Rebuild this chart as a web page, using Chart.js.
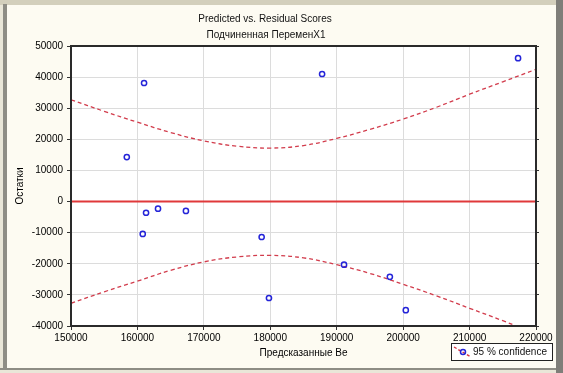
<!DOCTYPE html>
<html>
<head>
<meta charset="utf-8">
<script src="https://cdn.jsdelivr.net/npm/chart.js@4"></script>
<style>
  html, body { margin: 0; padding: 0; }
  body { width: 563px; height: 373px; background: #e9e6d8; position: relative; overflow: hidden; }
  .topband { position: absolute; left: 0; top: 0; width: 563px; height: 5px; background: #d3cfbc; }
  .leftbar { position: absolute; left: 3px; top: 4px; width: 4px; height: 365px; background: #8e8d85; }
  .rightbar { position: absolute; left: 556px; top: 0; width: 7px; height: 373px; background: #7f7e79; }
  .panel { position: absolute; left: 7px; top: 5px; width: 549px; height: 363px; background: #fdfbf2; }
  .bottomline { position: absolute; left: 0; top: 368px; width: 556px; height: 2px; background: #8e8d85; }
  #wrap { position: absolute; left: 0; top: 0; width: 563px; height: 373px; }
</style>
</head>
<body>
<div class="topband"></div>
<div class="leftbar"></div>
<div class="panel"></div>
<div class="rightbar"></div>
<div class="bottomline"></div>
<div id="wrap"><canvas id="residChart" width="563" height="373"></canvas></div>
<script>
// Остатки по предсказанным значениям
const predicted = [158400, 161000, 161300, 160800, 163100, 167300, 178700, 179800, 187800, 191100, 198000, 200400, 217300];
const residuals = [14300, 38100, -3600, -10400, -2300, -3000, -11400, -31000, 41000, -20300, -24200, -34900, 46100];

// Границы 95% доверительного интервала
const bandX = [150000, 155000, 160000, 165000, 170000, 175000, 180000, 185000, 190000, 195000, 200000, 205000, 210000, 215000, 220000];
const bandUpper = [32700, 29000, 25500, 22200, 19500, 17800, 17200, 18000, 20300, 23200, 26500, 30300, 34500, 38500, 42500];
const bandLower = [-32700, -29000, -25600, -22100, -19400, -17800, -17300, -18100, -20300, -23100, -26600, -30300, -34300, -38300, -42500];

const xTicks = [150000, 160000, 170000, 180000, 190000, 200000, 210000, 220000];
const yTicks = [-40000, -30000, -20000, -10000, 0, 10000, 20000, 30000, 40000, 50000];

const chartTitle = 'Predicted vs. Residual Scores';
const chartSubtitle = 'Подчиненная ПеременX1';
const legendLabel = '95 % confidence';

const font = 'Liberation Sans, Arial, sans-serif';

const toPoints = (xs, ys) => xs.map((x, i) => ({ x: x, y: ys[i] }));

// фон области графика, рамка, заголовки и легенда
const statisticaLook = {
    id: 'statisticaLook',
    beforeDraw(chart) {
        const { ctx, chartArea: a } = chart;
        ctx.save();
        ctx.fillStyle = '#ffffff';
        ctx.fillRect(a.left, a.top, a.right - a.left, a.bottom - a.top);
        ctx.restore();
    },
    afterDraw(chart) {
        const { ctx, chartArea: a } = chart;
        ctx.save();
        ctx.strokeStyle = '#2a2a2a';
        ctx.lineWidth = 2;
        ctx.strokeRect(a.left, a.top, a.right - a.left, a.bottom - a.top);

        ctx.fillStyle = '#111111';
        ctx.font = '10px ' + font;
        ctx.textAlign = 'center';
        ctx.textBaseline = 'middle';
        ctx.fillText(chartTitle, 265, 19);
        ctx.fillText(chartSubtitle, 266, 35);

        // легенда
        const bx = 451, by = 343, bw = 101, bh = 17;
        ctx.fillStyle = '#ffffff';
        ctx.fillRect(bx, by, bw, bh);
        ctx.strokeStyle = '#222222';
        ctx.lineWidth = 1;
        ctx.strokeRect(bx + 0.5, by + 0.5, bw, bh);
        ctx.strokeStyle = '#d8343f';
        ctx.lineWidth = 1.4;
        ctx.setLineDash([3, 2]);
        ctx.beginPath();
        ctx.moveTo(bx + 3, by + 4);
        ctx.lineTo(bx + 20, by + 14);
        ctx.stroke();
        ctx.setLineDash([]);
        ctx.strokeStyle = '#2424d8';
        ctx.lineWidth = 1.5;
        ctx.beginPath();
        ctx.arc(bx + 12, by + 9, 2.5, 0, Math.PI * 2);
        ctx.stroke();
        ctx.fillStyle = '#111111';
        ctx.textAlign = 'left';
        ctx.fillText(legendLabel, bx + 22, by + 9);
        ctx.restore();
    }
};

new Chart(document.getElementById('residChart'), {
    type: 'scatter',
    data: {
        datasets: [
            {
                type: 'line',
                label: 'zero',
                data: toPoints([xTicks[0], xTicks[xTicks.length - 1]], [0, 0]),
                borderColor: '#e0393a',
                borderWidth: 2,
                pointRadius: 0,
                order: 3
            },
            {
                type: 'line',
                label: 'upper',
                data: toPoints(bandX, bandUpper),
                borderColor: '#d23c4c',
                borderWidth: 1.3,
                borderDash: [4, 3],
                pointRadius: 0,
                tension: 0.4,
                order: 2
            },
            {
                type: 'line',
                label: 'lower',
                data: toPoints(bandX, bandLower),
                borderColor: '#d23c4c',
                borderWidth: 1.3,
                borderDash: [4, 3],
                pointRadius: 0,
                tension: 0.4,
                order: 2
            },
            {
                label: 'Остатки',
                data: toPoints(predicted, residuals),
                backgroundColor: 'rgba(0,0,0,0)',
                borderColor: '#2424d8',
                borderWidth: 1.5,
                pointRadius: 2.6,
                order: 1
            }
        ]
    },
    options: {
        responsive: false,
        animation: false,
        layout: { padding: { left: 8, right: 24, top: 46, bottom: 8 } },
        plugins: {
            legend: { display: false },
            tooltip: { enabled: false }
        },
        scales: {
            x: {
                type: 'linear',
                min: xTicks[0],
                max: xTicks[xTicks.length - 1],
                afterBuildTicks: (scale) => { scale.ticks = xTicks.map(v => ({ value: v })); },
                afterFit: (scale) => { scale.height = 39; },
                ticks: {
                    callback: (v) => String(v),
                    color: '#000000',
                    font: { family: font, size: 10 },
                    padding: 2,
                    maxRotation: 0
                },
                grid: { color: '#dcdcdc', tickColor: '#333333', tickLength: 4 },
                border: { color: '#2a2a2a', width: 1 },
                title: {
                    display: true,
                    text: 'Предсказанные Ве',
                    color: '#000000',
                    font: { family: font, size: 10 },
                    padding: { top: 0, bottom: 6 }
                }
            },
            y: {
                min: yTicks[0],
                max: yTicks[yTicks.length - 1],
                afterBuildTicks: (scale) => { scale.ticks = yTicks.map(v => ({ value: v })); },
                afterFit: (scale) => { scale.width = 63; },
                ticks: {
                    callback: (v) => String(v),
                    color: '#000000',
                    font: { family: font, size: 10 },
                    padding: 4
                },
                grid: { color: '#dcdcdc', tickColor: '#333333', tickLength: 4 },
                border: { color: '#2a2a2a', width: 1 },
                title: {
                    display: true,
                    text: 'Остатки',
                    color: '#000000',
                    font: { family: font, size: 10 },
                    padding: { top: 6, bottom: 0 }
                }
            },
            y2: {
                position: 'right',
                min: yTicks[0],
                max: yTicks[yTicks.length - 1],
                afterBuildTicks: (scale) => { scale.ticks = yTicks.map(v => ({ value: v })); },
                ticks: { display: false },
                grid: { drawOnChartArea: false, tickColor: '#333333', tickLength: 3 },
                border: { display: false }
            }
        }
    },
    plugins: [statisticaLook]
});
</script>
</body>
</html>
